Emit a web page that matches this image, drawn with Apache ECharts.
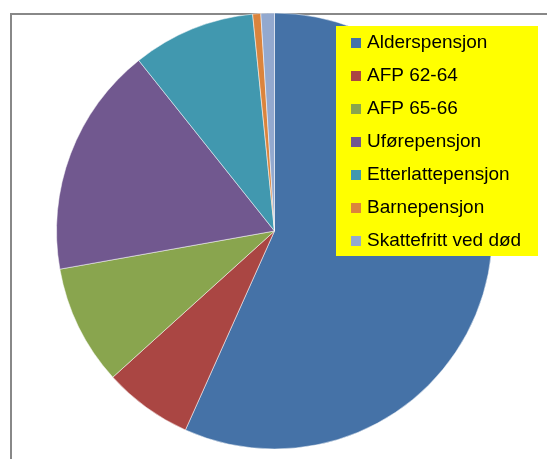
<!DOCTYPE html>
<html><head><meta charset="utf-8">
<script src="https://cdn.jsdelivr.net/npm/echarts@6/dist/echarts.min.js"></script>
<style>html,body{margin:0;padding:0;background:#fff}#c{width:547px;height:459px}</style>
</head><body><div id="c"></div>
<script>
const categories = ['Alderspensjon','AFP 62-64','AFP 65-66','Uførepensjon','Etterlattepensjon','Barnepensjon','Skattefritt ved død'];
const values = [56.7, 6.6, 8.9, 17.1, 9.1, 0.6, 1.0];
const colors = ['#4572A7','#AA4643','#89A54E','#71588F','#4198AF','#DB843D','#93A9CF'];

const chart = echarts.init(document.getElementById('c'), null, {renderer:'canvas'});
chart.setOption({
  animation:false,
  backgroundColor:'#fff',
  color: colors,
  graphic:[
    {type:'rect', z:1, shape:{x:11,y:14,width:600,height:500}, style:{fill:'none',stroke:'#888',lineWidth:2}},
    {type:'rect', z:3, shape:{x:336,y:26,width:202,height:230}, style:{fill:'#ffff00'}}
  ],
  legend:{
    orient:'vertical', left:351, top:32, z:5, padding:0,
    itemWidth:10, itemHeight:10, itemGap:11,
    icon:'rect',
    itemStyle:{borderWidth:0},
    textStyle:{fontFamily:'Liberation Sans', fontSize:19, color:'#000', lineHeight:22, padding:[0,0,0,1]},
    data: categories
  },
  series:[{
    type:'pie', z:2,
    center:[274.5,231], radius:218,
    startAngle:90, clockwise:true,
    label:{show:false}, labelLine:{show:false},
    itemStyle:{borderColor:'#fff', borderWidth:0.5},
    emphasis:{disabled:true},
    data: categories.map((n,i)=>({name:n, value:values[i]}))
  }]
});
</script></body></html>
